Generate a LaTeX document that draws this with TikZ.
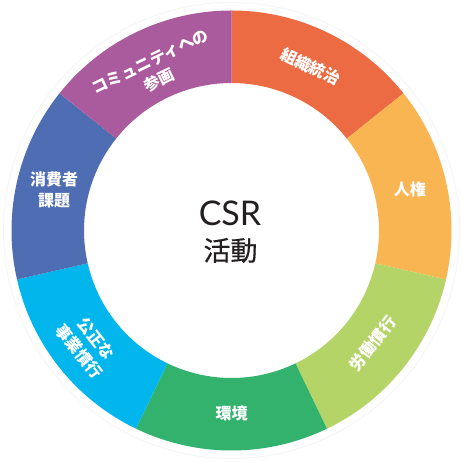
\documentclass[tikz,border=0pt]{standalone}
\usepackage{fontspec}
\newfontfamily\jp{Noto Sans CJK JP}
\newfontfamily\jpmed[FakeBold=0.6]{Noto Sans CJK JP}
\newfontfamily\lat{Lato}
\definecolor{cOrg}{RGB}{236,107,67}
\definecolor{cYel}{RGB}{249,181,82}
\definecolor{cLgr}{RGB}{181,212,104}
\definecolor{cGrn}{RGB}{51,178,110}
\definecolor{cCya}{RGB}{0,182,236}
\definecolor{cBlu}{RGB}{79,109,179}
\definecolor{cPur}{RGB}{170,91,157}
\definecolor{cTxt}{RGB}{35,31,32}
\begin{document}
\begin{tikzpicture}[x=1pt,y=1pt,
  seglabel/.style={text=white,font=\jp\bfseries\fontsize{16}{21}\selectfont,align=center,inner sep=0pt},
  centertext/.style={text=cTxt,inner sep=0pt}]
\useasboundingbox (-231.5,-231.5) rectangle (230.5,230.5);
\fill[white] (-231.5,-231.5) rectangle (230.5,230.5);
\draw[gray!8,line width=0.8pt] (0,0) circle[radius=228];
\def\ro{220}
\def\ri{147.5}
\foreach \a/\c in {90/cOrg,38.5714/cYel,-12.8571/cLgr,-64.2857/cGrn,-115.7143/cCya,-167.1429/cBlu,-218.5714/cPur}{
  \pgfmathsetmacro{\b}{\a-51.4286}
  \fill[\c] (\a:\ro) arc[start angle=\a,end angle=\b,radius=\ro] -- (\b:\ri) arc[start angle=\b,end angle=\a,radius=\ri] -- cycle;
}
\node[seglabel,rotate=-25.71] (s1) at (64.29:182) {組織統治};
\node[seglabel] (s2) at (12.86:183) {人権};
\node[seglabel,rotate=51.43] (s3) at (-38.57:181) {労働慣行};
\node[seglabel] (s4) at (-90:183) {環境};
\node[seglabel,rotate=-51.43] (s5) at (-141.43:184) {公正な\\事業慣行};
\node[seglabel] (s6) at (167.14:182) {消費者\\課題};
\node[seglabel,rotate=25.71] (s7) at (115.71:177) {コミュニティへの\\参画};
\node[centertext,font=\lat\fontsize{34}{34}\selectfont] (csr) at (-1.5,17.5) {CSR};
\node[centertext,font=\jpmed\fontsize{27}{27}\selectfont] (kd) at (-1,-20) {活動};
\end{tikzpicture}
\end{document}
